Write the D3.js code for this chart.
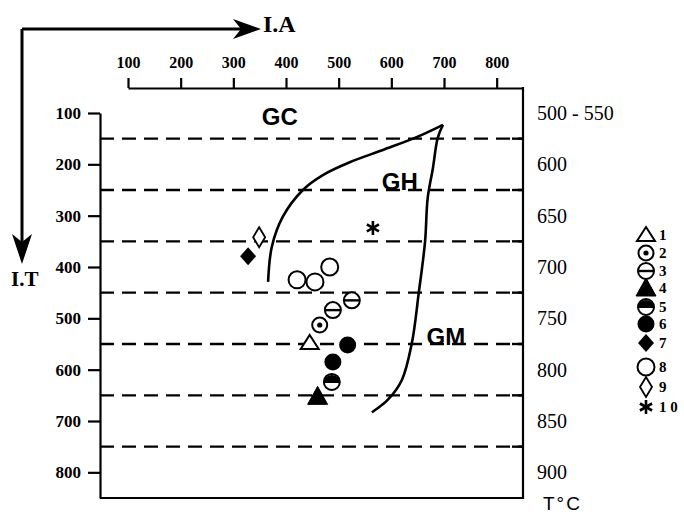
<!DOCTYPE html>
<html>
<head>
<meta charset="utf-8">
<script src="https://cdn.jsdelivr.net/npm/d3@7"></script>
<style>
  html, body { margin: 0; padding: 0; background: #fff; }
  svg { display: block; }
</style>
</head>
<body>
<svg id="chart" width="684" height="515"></svg>
<script>
// ---------- data ----------
const topTicks = [100, 200, 300, 400, 500, 600, 700, 800];
const leftTicks = [100, 200, 300, 400, 500, 600, 700, 800];
const rightTicks = [550, 600, 650, 700, 750, 800, 850, 900];
const rightTickLabels = ["500 - 550", "600", "650", "700", "750", "800", "850", "900"];
const dashLevels = [150, 250, 350, 450, 550, 650, 750];

// sample points: symbol type, I.A value, I.T value
const pointType = [9, 7, 10, 8, 8, 8, 3, 3, 2, 1, 6, 6, 5, 4];
const pointIA   = [349, 328, 565, 421, 455, 483, 525, 489, 464, 445, 517, 489, 487, 460];
const pointIT   = [342, 379, 324, 425, 429, 400, 465, 484, 513, 548, 552, 585, 624, 652];

// boundary curves (GC / GH and GH / GM)
const curve1IA = [366, 373, 394, 432, 470, 521, 584, 648, 698];
const curve1IT = [429, 361, 302, 250, 221, 196, 172, 147, 123];
const curve2IA = [698, 688, 679, 669, 664, 652, 639, 620, 593, 563];
const curve2IT = [123, 149, 207, 266, 351, 451, 548, 620, 659, 683];

const fieldLabels = ["GC", "GH", "GM"];
const fieldIA = [354, 582, 667];
const fieldIT = [123, 250, 552];

const legendTypes = [1, 2, 3, 4, 5, 6, 7, 8, 9, 10];
const legendLabels = ["1", "2", "3", "4", "5", "6", "7", "8", "9", "1 0"];

// ---------- layout ----------
const svg = d3.select("#chart");
const serif = "'Liberation Serif', 'Times New Roman', serif";
const sans = "'Liberation Sans', Arial, sans-serif";

const x = d3.scaleLinear().domain([100, 850]).range([128, 523]);
const y = d3.scaleLinear().domain([100, 850]).range([113, 498]);
const yT = d3.scaleLinear().domain([550, 925]).range([113, 498]);

svg.append("rect").attr("width", 684).attr("height", 515).attr("fill", "#fff");

// dashed horizontal lines
svg.append("g").selectAll("line").data(dashLevels).join("line")
  .attr("x1", 100).attr("x2", 523)
  .attr("y1", d => y(d)).attr("y2", d => y(d))
  .attr("stroke", "#000").attr("stroke-width", 2.4)
  .attr("stroke-dasharray", "14,8");
// right end ticks
svg.append("g").selectAll("line").data(dashLevels).join("line")
  .attr("x1", 512).attr("x2", 523)
  .attr("y1", d => y(d)).attr("y2", d => y(d))
  .attr("stroke", "#000").attr("stroke-width", 2.4);

// top axis
const gTop = svg.append("g").attr("transform", "translate(0,88)")
  .call(d3.axisTop(x).tickValues(topTicks).tickSize(10).tickSizeOuter(0).tickPadding(10));
// left axis
const gLeft = svg.append("g").attr("transform", "translate(100,0)")
  .call(d3.axisLeft(y).tickValues(leftTicks).tickSize(12).tickSizeOuter(0).tickPadding(7));
// right axis (labels only)
const gRight = svg.append("g").attr("transform", "translate(523,0)")
  .call(d3.axisRight(yT).tickValues(rightTicks).tickSize(0).tickSizeOuter(0).tickPadding(14)
    .tickFormat((d, i) => rightTickLabels[i]));
gRight.select(".domain").remove();

[gTop, gLeft].forEach(g => {
  g.select(".domain").attr("stroke-width", 2.2);
  g.selectAll(".tick line").attr("stroke-width", 2.2);
});
gTop.selectAll("text").attr("font-family", serif).attr("font-size", 16).attr("font-weight", "bold").attr("fill", "#000");
gLeft.selectAll("text").attr("font-family", serif).attr("font-size", 17).attr("font-weight", "bold").attr("fill", "#000");
gRight.selectAll("text").attr("font-family", serif).attr("font-size", 20).attr("fill", "#000");

// box: bottom and right
svg.append("line").attr("x1", 100).attr("x2", 524).attr("y1", 498).attr("y2", 498)
  .attr("stroke", "#000").attr("stroke-width", 2.2);
svg.append("line").attr("x1", 523).attr("x2", 523).attr("y1", 87).attr("y2", 499)
  .attr("stroke", "#000").attr("stroke-width", 2.2);

// curves
const line = d3.line().x(d => x(d[0])).y(d => y(d[1])).curve(d3.curveCatmullRom.alpha(0.5));
svg.append("path").datum(curve1IA.map((v, i) => [v, curve1IT[i]]))
  .attr("d", line).attr("fill", "none").attr("stroke", "#000").attr("stroke-width", 2.6);
svg.append("path").datum(curve2IA.map((v, i) => [v, curve2IT[i]]))
  .attr("d", line).attr("fill", "none").attr("stroke", "#000").attr("stroke-width", 2.6);

// field labels
svg.append("g").selectAll("text").data(fieldLabels).join("text")
  .attr("x", (d, i) => x(fieldIA[i])).attr("y", (d, i) => y(fieldIT[i]))
  .attr("font-family", sans).attr("font-weight", "bold").attr("font-size", 24)
  .attr("fill", "#000").text(d => d);

// symbols
function drawSymbol(g, type) {
  const sw = 2;
  if (type === 1) {
    g.append("path").attr("d", "M0,-8L9,6L-9,6Z").attr("fill", "#fff").attr("stroke", "#000").attr("stroke-width", sw);
  } else if (type === 2) {
    g.append("circle").attr("r", 7.5).attr("fill", "#fff").attr("stroke", "#000").attr("stroke-width", sw);
    g.append("circle").attr("r", 2.6).attr("fill", "#000");
  } else if (type === 3) {
    g.append("circle").attr("r", 8).attr("fill", "#fff").attr("stroke", "#000").attr("stroke-width", sw);
    g.append("line").attr("x1", -8).attr("x2", 8).attr("stroke", "#000").attr("stroke-width", 2.4);
  } else if (type === 4) {
    g.append("path").attr("d", "M0,-10L10,8L-10,8Z").attr("fill", "#000").attr("stroke", "#000").attr("stroke-width", 1);
  } else if (type === 5) {
    g.append("circle").attr("r", 8).attr("fill", "#fff").attr("stroke", "#000").attr("stroke-width", sw);
    g.append("path").attr("d", "M-8,1A8,8 0 0 1 8,1Z").attr("fill", "#000");
  } else if (type === 6) {
    g.append("circle").attr("r", 8.5).attr("fill", "#000");
  } else if (type === 7) {
    g.append("path").attr("d", "M0,-9L8,0L0,9L-8,0Z").attr("fill", "#000");
  } else if (type === 8) {
    g.append("circle").attr("r", 8.5).attr("fill", "#fff").attr("stroke", "#000").attr("stroke-width", sw);
  } else if (type === 9) {
    g.append("path").attr("d", "M0,-10L6,0L0,10L-6,0Z").attr("fill", "#fff").attr("stroke", "#000").attr("stroke-width", 1.8);
  } else if (type === 10) {
    [90, 30, -30].forEach(a => {
      const r = 7, t = a * Math.PI / 180;
      g.append("line").attr("x1", -r * Math.cos(t)).attr("y1", -r * Math.sin(t))
        .attr("x2", r * Math.cos(t)).attr("y2", r * Math.sin(t))
        .attr("stroke", "#000").attr("stroke-width", 2.6);
    });
  }
}

const pts = svg.append("g");
pointType.forEach((t, i) => {
  const g = pts.append("g").attr("transform", `translate(${x(pointIA[i])},${y(pointIT[i])})`);
  drawSymbol(g, t);
});

// legend
const legendY = [235, 253, 271, 288, 307, 324, 343, 367, 387, 407];
const leg = svg.append("g");
legendTypes.forEach((t, i) => {
  const g = leg.append("g").attr("transform", `translate(646,${legendY[i]})`);
  drawSymbol(g, t);
  g.append("text").attr("x", 13).attr("y", 5).attr("font-family", serif)
    .attr("font-weight", "bold").attr("font-size", 15).attr("fill", "#000")
    .text(legendLabels[i]);
});

// axis titles and arrows
const arrows = svg.append("g");
arrows.append("path").attr("d", "M22,29H248M22,29V252").attr("fill", "none")
  .attr("stroke", "#000").attr("stroke-width", 3);
arrows.append("path").attr("d", "M261,29L233,19L241,29L233,39Z").attr("fill", "#000");
arrows.append("path").attr("d", "M22,264L12,234L22,242L32,234Z").attr("fill", "#000");

svg.append("text").attr("x", 263).attr("y", 32).attr("font-family", serif)
  .attr("font-weight", "bold").attr("font-size", 24).attr("fill", "#000").text("I.A");
svg.append("text").attr("x", 11).attr("y", 286).attr("font-family", serif)
  .attr("font-weight", "bold").attr("font-size", 21).attr("fill", "#000").text("I.T");
svg.append("text").attr("x", 543).attr("y", 510).attr("font-family", sans)
  .attr("font-size", 19).attr("letter-spacing", 2).attr("fill", "#000").text("T°C");
</script>
</body>
</html>
